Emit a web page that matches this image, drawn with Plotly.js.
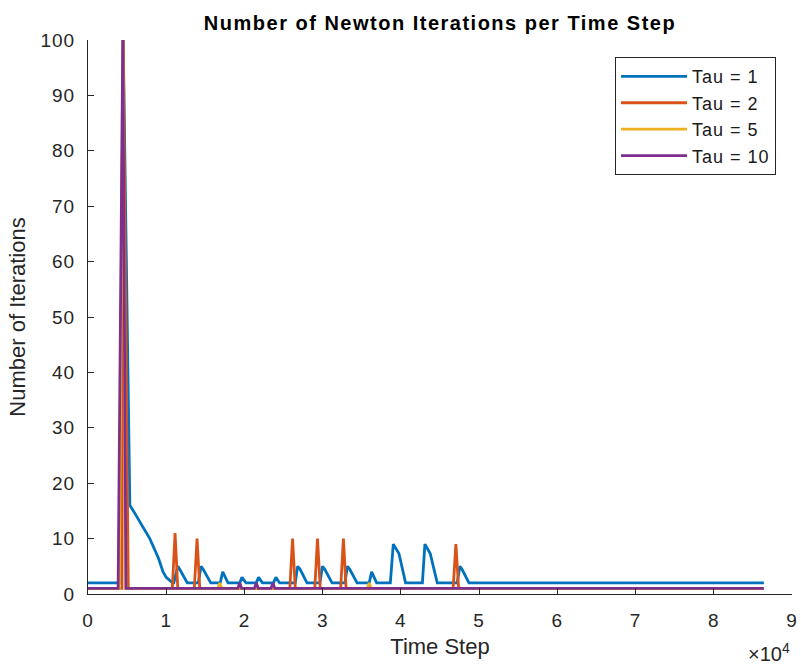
<!DOCTYPE html>
<html>
<head>
<meta charset="utf-8">
<script src="https://cdn.plot.ly/plotly-3.0.1.min.js"></script>
<style>
  html, body { margin: 0; padding: 0; background: #ffffff; }
  #chart { width: 801px; height: 665px; }
  .xtick text, .ytick text { letter-spacing: 1px; }
  .legendtext { letter-spacing: 1px; }
  .gtitle { letter-spacing: 1.5px; }
</style>
</head>
<body>
<div id="chart"></div>
<script>
// ---- data ----
const seriesNames = ["Tau = 1", "Tau = 2", "Tau = 5", "Tau = 10"];
const seriesColors = ["#0072BD", "#D95319", "#EDB120", "#7E2F8E"];

const tau1X = [0, 4000, 4500, 5350, 5800, 6600, 7900, 9000, 9600, 10000, 10500, 10800,
  10970, 11480, 11700, 12700,
  14100, 14450, 14700, 15700,
  16900, 17220, 17900,
  19400, 19680, 20200,
  21500, 21810, 22300,
  23700, 24020, 24500,
  26500, 26800, 27100, 28000,
  29650, 29970, 30250, 31200,
  32850, 33160, 33450, 34400,
  35950, 36260, 36900,
  38650, 39030, 39750, 40600,
  42750, 43070, 43750, 44650,
  47200, 47540, 47800, 48700,
  86400];
const tau1Y = [2, 2, 100, 16, 15, 13, 10, 6.5, 4, 3, 2.3, 2,
  2, 5, 4.5, 2,
  2, 5, 4.5, 2,
  2, 4, 2,
  2, 3, 2,
  2, 3, 2,
  2, 3, 2,
  2, 5, 4.5, 2,
  2, 5, 4.5, 2,
  2, 5, 4.5, 2,
  2, 4, 2,
  2, 9, 7.3, 2,
  2, 9, 7.3, 2,
  2, 5, 4.5, 2,
  2];

const tau2X = [0, 4350, 4500, 5150,
  10780, 11130, 11480,
  13590, 13940, 14290,
  25800, 26150, 26500,
  28990, 29340, 29690,
  32300, 32650, 33000,
  46680, 47030, 47380,
  86400];
const tau2Y = [1, 1, 100, 1,
  1, 11, 1,
  1, 10, 1,
  1, 10, 1,
  1, 10, 1,
  1, 10, 1,
  1, 9, 1,
  1];

const tau5X = [0, 4000, 4450, 4850, 16600, 16850, 17100, 35700, 35950, 36200, 86400];
const tau5Y = [1, 1, 100, 1, 1, 2, 1, 1, 2, 1, 1];

const tau10X = [0, 3850, 4450, 4850, 19150, 19400, 19650, 21270, 21520, 21770, 23390, 23640, 23890, 86400];
const tau10Y = [1, 1, 100, 1, 1, 2, 1, 1, 2, 1, 1, 2, 1, 1];

const xTickVals = [0, 10000, 20000, 30000, 40000, 50000, 60000, 70000, 80000, 90000];
const xTickText = ["0", "1", "2", "3", "4", "5", "6", "7", "8", "9"];
const yTickVals = [0, 10, 20, 30, 40, 50, 60, 70, 80, 90, 100];

const chartTitle = "Number of Newton Iterations per Time Step";
const xTitle = "Time Step";
const yTitle = "Number of Iterations";
const exponentLabel = "\u00d710<sup>4</sup>";

// ---- build traces ----
const xs = [tau1X, tau2X, tau5X, tau10X];
const ys = [tau1Y, tau2Y, tau5Y, tau10Y];
const traces = seriesNames.map((name, i) => ({
  type: "scatter",
  mode: "lines",
  name: name,
  x: xs[i],
  y: ys[i],
  legendgroup: "g" + i,
  line: { color: seriesColors[i], width: 2.8 }
}));

const FONT = '"Liberation Sans", Arial, Helvetica, sans-serif';
const axisColor = "#262626";

const layout = {
  width: 801,
  height: 665,
  margin: { l: 88, r: 9, t: 40, b: 71, pad: 0 },
  paper_bgcolor: "#ffffff",
  plot_bgcolor: "#ffffff",
  font: { family: FONT, color: axisColor, size: 19 },
  title: {
    text: "<b>" + chartTitle + "</b>",
    font: { family: FONT, size: 20, color: "#000000" },
    x: 0.5, xanchor: "center", xref: "paper",
    y: 0.966, yanchor: "middle"
  },
  xaxis: {
    range: [0, 90000],
    tickvals: xTickVals,
    ticktext: xTickText,
    ticks: "inside",
    ticklen: 6,
    tickcolor: axisColor,
    showline: true,
    linecolor: axisColor,
    linewidth: 1,
    showgrid: false,
    zeroline: false,
    tickfont: { family: FONT, size: 19, color: axisColor },
    ticklabelstandoff: 9,
    title: { text: xTitle, font: { family: FONT, size: 22, color: axisColor }, standoff: 8 }
  },
  yaxis: {
    range: [0, 100],
    tickvals: yTickVals,
    ticks: "inside",
    ticklen: 6,
    tickcolor: axisColor,
    showline: true,
    linecolor: axisColor,
    linewidth: 1,
    showgrid: false,
    zeroline: false,
    tickfont: { family: FONT, size: 19, color: axisColor },
    ticklabelstandoff: 8,
    title: { text: yTitle, font: { family: FONT, size: 22, color: axisColor }, standoff: 8 }
  },
  showlegend: true,
  legend: {
    x: 0.7486, xanchor: "left",
    y: 0.969, yanchor: "top",
    bgcolor: "#ffffff",
    bordercolor: axisColor,
    borderwidth: 1,
    font: { family: FONT, size: 18, color: "#1a1a1a" },
    itemwidth: 66,
    traceorder: "normal",
    tracegroupgap: 1
  },
  annotations: [{
    text: exponentLabel,
    xref: "paper", yref: "paper",
    x: 1.0, y: -0.105,
    xanchor: "right", yanchor: "middle",
    showarrow: false,
    font: { family: FONT, size: 20, color: axisColor }
  }]
};

Plotly.newPlot("chart", traces, layout, { displayModeBar: false, staticPlot: true });
</script>
</body>
</html>
